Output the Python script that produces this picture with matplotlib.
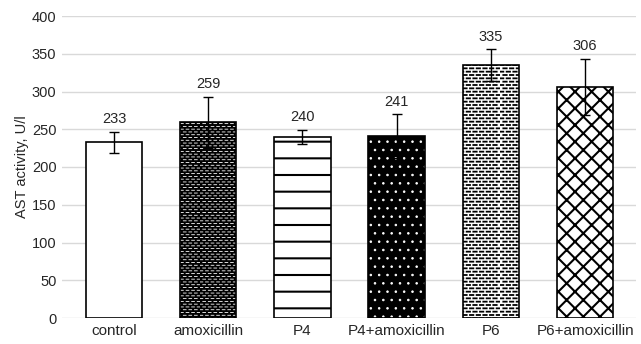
import warnings
import numpy as np
import matplotlib
matplotlib.use("Agg")
import matplotlib.pyplot as plt
from matplotlib import hatch as mhatch
from matplotlib.path import Path

warnings.filterwarnings("ignore")

groups = ["control", "amoxicillin", "P4", "P4+amoxicillin", "P6", "P6+amoxicillin"]
ast_mean = [233, 259, 240, 241, 335, 306]
ast_err = [14, 34, 9, 29, 21, 37]


class DashHatch(mhatch.HatchPatternBase):
    # rows of short staggered dashes, one '_' = density rows per unit
    def __init__(self, hatch, density):
        self.num_rows = int(hatch.count('_') * density)
        self.num_cols = max(self.num_rows // 2, 1)
        self.num_vertices = self.num_rows * self.num_cols * 2 if self.num_rows else 0

    def set_vertices_and_codes(self, vertices, codes):
        step = 1.0 / self.num_cols
        k = 0
        for i in range(self.num_rows):
            y = (i + 0.5) / self.num_rows
            shift = step / 2 if i % 2 else 0.0
            for j in range(self.num_cols):
                x0 = j * step + shift
                vertices[k] = (x0, y)
                vertices[k + 1] = (x0 + step * 0.5, y)
                codes[k] = Path.MOVETO
                codes[k + 1] = Path.LINETO
                k += 2


mhatch._hatch_types.append(DashHatch)

plt.rcParams['font.family'] = ['Liberation Sans', 'DejaVu Sans']
txt = '#262626'

fig = plt.figure(figsize=(6.41, 3.44), dpi=100)
ax = fig.add_axes([62 / 641, 26 / 344, 574 / 641, 302 / 344])

x = np.arange(len(groups))
w = 0.6

faces = ['white', 'black', 'white', 'black', 'white', 'white']
hatches = [None, '______', '-', '..', '_____', 'xx']
hcolors = ['black', 'white', 'black', 'white', 'black', 'black']
hwidths = [1.0, 0.6, 1.5, 0.6, 1.3, 1.5]

for i in range(len(groups)):
    plt.rcParams['hatch.linewidth'] = hwidths[i]
    ax.bar(x[i], ast_mean[i], w, color=faces[i], edgecolor=hcolors[i],
           hatch=hatches[i], linewidth=0, zorder=2)
    ax.bar(x[i], ast_mean[i], w, facecolor='none', edgecolor='black',
           linewidth=1.2, zorder=3)

ax.errorbar(x, ast_mean, yerr=ast_err, fmt='none', ecolor='black',
            elinewidth=1, capsize=3.5, capthick=1, zorder=4)

for i in range(len(groups)):
    ax.annotate(str(ast_mean[i]), (x[i], ast_mean[i] + ast_err[i]),
                xytext=(0, 4), textcoords='offset points', ha='center',
                va='bottom', fontsize=10.5, color=txt)

ax.set_xlim(-0.552, 5.54)
ax.set_ylim(0, 400)
ax.set_yticks(range(0, 401, 50))
ax.set_xticks(x)
ax.set_xticklabels(groups, fontsize=11)
ax.tick_params(length=0, labelsize=10.5, colors=txt)
ax.tick_params(axis='y', pad=4)
ax.tick_params(axis='x', pad=4, labelsize=11)
ax.yaxis.grid(True, color='#d9d9d9', linewidth=1)
ax.set_axisbelow(True)
for s in ax.spines.values():
    s.set_visible(False)
ax.set_ylabel('AST activity, U/l', fontsize=10.5, color=txt)
ax.yaxis.set_label_coords(-0.058, 0.5)

fig.savefig('out.png', dpi=100)
